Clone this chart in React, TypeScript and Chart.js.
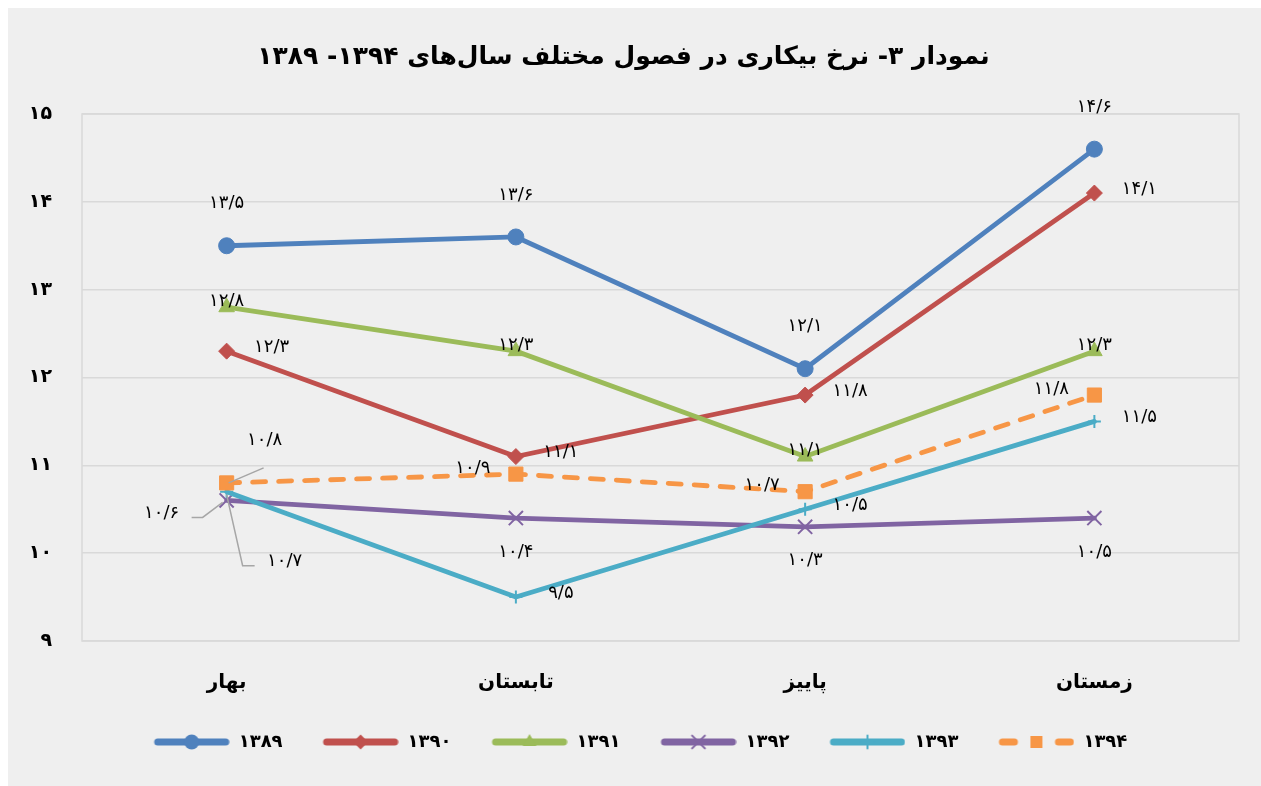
import React, { useEffect, useRef } from 'react';
import { Chart, registerables } from 'chart.js';

Chart.register(...registerables);

const seasons = ['بهار', 'تابستان', 'پاییز', 'زمستان'];
const years = ['۱۳۸۹', '۱۳۹۰', '۱۳۹۱', '۱۳۹۲', '۱۳۹۳', '۱۳۹۴'];
const titleText = 'نمودار ۳- نرخ بیکاری در فصول مختلف سال‌های ۱۳۹۴- ۱۳۸۹';

const v1389 = [13.5, 13.6, 12.1, 14.6];
const v1390 = [12.3, 11.1, 11.8, 14.1];
const v1391 = [12.8, 12.3, 11.1, 12.3];
const v1392 = [10.6, 10.4, 10.3, 10.4];
const v1393 = [10.7, 9.5, 10.5, 11.5];
const v1394 = [10.8, 10.9, 10.7, 11.8];

const t1389 = ['۱۳/۵', '۱۳/۶', '۱۲/۱', '۱۴/۶'];
const t1390 = ['۱۲/۳', '۱۱/۱', '۱۱/۸', '۱۴/۱'];
const t1391 = ['۱۲/۸', '۱۲/۳', '۱۱/۱', '۱۲/۳'];
const t1392 = ['۱۰/۶', '۱۰/۴', '۱۰/۳', '۱۰/۵'];
const t1393 = ['۱۰/۷', '۹/۵', '۱۰/۵', '۱۱/۵'];
const t1394 = ['۱۰/۸', '۱۰/۹', '۱۰/۷', '۱۱/۸'];

const yMin = 9;
const yMax = 15;
const yStep = 1;

// ---- styling (not data) ----
const FONT = '"DejaVu Sans", sans-serif';
const colors = ['#4F81BD', '#C0504D', '#9BBB59', '#8064A2', '#4BACC6', '#F79646'];
const pointStyles = ['circle', 'rectRot', 'triangle', 'crossRot', 'cross', 'rect'];
const pointRadii = [8, 8, 9, 10, 6.5, 10];

type Place = { dx: number; dy: number; leader?: number[][] };
const placeDefs: Record<string, Place> = {
  above: { dx: 0, dy: -42 },
  right: { dx: 45, dy: -4 },
  center: { dx: 0, dy: -6 },
  below: { dx: 0, dy: 34 },
  left: { dx: -43, dy: -6 },
  leaderLeft: { dx: -65, dy: 13, leader: [[-4, 2], [-24, 17], [-35, 17]] },
  leaderDown: { dx: 58, dy: 70, leader: [[0, 3], [16, 74], [28, 74]] },
  leaderUp: { dx: 38, dy: -43, leader: [[2, 0], [37, -15]] },
};
const places = [
  ['above', 'above', 'above', 'above'],
  ['right', 'right', 'right', 'right'],
  ['center', 'center', 'center', 'center'],
  ['leaderLeft', 'below', 'below', 'below'],
  ['leaderDown', 'right', 'right', 'right'],
  ['leaderUp', 'left', 'left', 'left'],
];

const toFa = (s: string | number) =>
  String(s).replace(/\d/g, (d) => '۰۱۲۳۴۵۶۷۸۹'[Number(d)]);

function drawMarker(ctx: CanvasRenderingContext2D, style: string, x: number, y: number, r: number, color: string) {
  ctx.save();
  ctx.fillStyle = color;
  ctx.strokeStyle = color;
  ctx.lineWidth = 2;
  ctx.beginPath();
  if (style === 'circle') {
    ctx.arc(x, y, r, 0, Math.PI * 2);
    ctx.fill();
  } else if (style === 'rectRot') {
    ctx.moveTo(x, y - r);
    ctx.lineTo(x + r, y);
    ctx.lineTo(x, y + r);
    ctx.lineTo(x - r, y);
    ctx.closePath();
    ctx.fill();
  } else if (style === 'triangle') {
    ctx.moveTo(x, y - r);
    ctx.lineTo(x + r * 0.87, y + r * 0.5);
    ctx.lineTo(x - r * 0.87, y + r * 0.5);
    ctx.closePath();
    ctx.fill();
  } else if (style === 'crossRot') {
    const d = r * 0.707;
    ctx.moveTo(x - d, y - d);
    ctx.lineTo(x + d, y + d);
    ctx.moveTo(x + d, y - d);
    ctx.lineTo(x - d, y + d);
    ctx.stroke();
  } else if (style === 'cross') {
    ctx.moveTo(x, y - r);
    ctx.lineTo(x, y + r);
    ctx.moveTo(x - r, y);
    ctx.lineTo(x + r, y);
    ctx.stroke();
  } else if (style === 'rect') {
    ctx.fillRect(x - r * 0.75, y - r * 0.75, r * 1.5, r * 1.5);
  }
  ctx.restore();
}

function legendImage(i: number): HTMLCanvasElement {
  const c = document.createElement('canvas');
  c.width = 110;
  c.height = 22;
  const ctx = c.getContext('2d')!;
  ctx.strokeStyle = colors[i];
  ctx.lineWidth = 7;
  ctx.lineCap = 'round';
  const x0 = 38, x1 = 106, y = 11;
  ctx.beginPath();
  if (i === 5) {
    ctx.moveTo(x0, y); ctx.lineTo(x0 + 12, y);
    ctx.moveTo(x1 - 12, y); ctx.lineTo(x1, y);
  } else {
    ctx.moveTo(x0, y); ctx.lineTo(x1, y);
  }
  ctx.stroke();
  const mr = [7.5, 7.5, 8, 9, 6.5, 8][i];
  drawMarker(ctx, pointStyles[i], (x0 + x1) / 2, y, mr, colors[i]);
  return c;
}

const values = [v1389, v1390, v1391, v1392, v1393, v1394];
const texts = [t1389, t1390, t1391, t1392, t1393, t1394];

const plotBorder = {
  id: 'plotBorder',
  beforeDatasetsDraw(chart: any) {
    const { ctx, chartArea: a } = chart;
    ctx.save();
    ctx.strokeStyle = '#d9d9d9';
    ctx.lineWidth = 1.5;
    ctx.strokeRect(a.left, a.top, a.right - a.left, a.bottom - a.top);
    ctx.restore();
  },
};

const valueLabels = {
  id: 'valueLabels',
  afterDatasetsDraw(chart: any) {
    const ctx = chart.ctx;
    ctx.save();
    ctx.font = `18px ${FONT}`;
    ctx.fillStyle = '#000';
    ctx.textAlign = 'center';
    ctx.textBaseline = 'middle';
    chart.data.datasets.forEach((_: any, di: number) => {
      const meta = chart.getDatasetMeta(di);
      meta.data.forEach((pt: any, i: number) => {
        const p = placeDefs[places[di][i]];
        if (p.leader) {
          ctx.strokeStyle = '#a6a6a6';
          ctx.lineWidth = 1.5;
          ctx.beginPath();
          p.leader.forEach(([dx, dy], k) => {
            if (k === 0) ctx.moveTo(pt.x + dx, pt.y + dy);
            else ctx.lineTo(pt.x + dx, pt.y + dy);
          });
          ctx.stroke();
        }
        ctx.fillText(texts[di][i], pt.x + p.dx, pt.y + p.dy);
      });
    });
    ctx.restore();
  },
};

export default function App() {
  const ref = useRef<HTMLCanvasElement>(null);
  useEffect(() => {
    if (!ref.current) return;
    const datasets = values.map((v, i) => ({
      label: years[i],
      data: v,
      borderColor: colors[i],
      backgroundColor: colors[i],
      pointBackgroundColor: colors[i],
      pointBorderColor: colors[i],
      pointStyle: pointStyles[i],
      pointRadius: pointRadii[i],
      pointBorderWidth: i === 3 || i === 4 ? 2 : 1,
      borderWidth: 4.8,
      borderDash: i === 5 ? [13, 13] : [],
      borderCapStyle: 'round' as const,
      tension: 0,
      order: 5 - i,
    }));
    const chart = new Chart(ref.current, {
      type: 'line',
      data: { labels: seasons, datasets },
      plugins: [plotBorder, valueLabels],
      options: {
        animation: false,
        responsive: false,
        maintainAspectRatio: false,
        layout: { padding: { left: 0, right: 22, top: 0, bottom: 25 } },
        plugins: {
          tooltip: { enabled: false },
          title: {
            display: true,
            text: titleText,
            color: '#000',
            font: { family: FONT, size: 25, weight: 'bold' },
            padding: { top: 34, bottom: 42 },
          },
          legend: {
            position: 'bottom',
            labels: {
              usePointStyle: true,
              pointStyleWidth: 110,
              padding: 6,
              color: '#000',
              font: { family: FONT, size: 18, weight: 'bold' },
              generateLabels: (c: any) =>
                c.data.datasets.map((ds: any, i: number) => ({
                  text: ds.label,
                  pointStyle: legendImage(i),
                  fillStyle: colors[i],
                  strokeStyle: colors[i],
                  lineWidth: 0,
                  hidden: false,
                  datasetIndex: i,
                  fontColor: '#000',
                })),
            },
          },
        },
        scales: {
          x: {
            offset: true,
            grid: { display: false, drawTicks: false },
            border: { display: false },
            ticks: {
              padding: 30,
              color: '#000',
              font: { family: FONT, size: 20, weight: 'bold' },
            },
            afterFit: (s: any) => { s.height = 86; },
          },
          y: {
            min: yMin,
            max: yMax,
            grid: { color: '#d9d9d9', lineWidth: 1.5, drawTicks: false },
            border: { display: false },
            ticks: {
              stepSize: yStep,
              padding: 30,
              color: '#000',
              font: { family: FONT, size: 19, weight: 'bold' },
              callback: (v: any) => toFa(v),
            },
            afterFit: (s: any) => { s.width = 74; },
          },
        },
      },
    });
    return () => chart.destroy();
  }, []);
  return (
    <div style={{ position: 'fixed', left: 8, top: 8, width: 1253, height: 778, background: '#efefef' }}>
      <canvas ref={ref} width={1253} height={778} style={{ width: 1253, height: 778 }} />
    </div>
  );
}
